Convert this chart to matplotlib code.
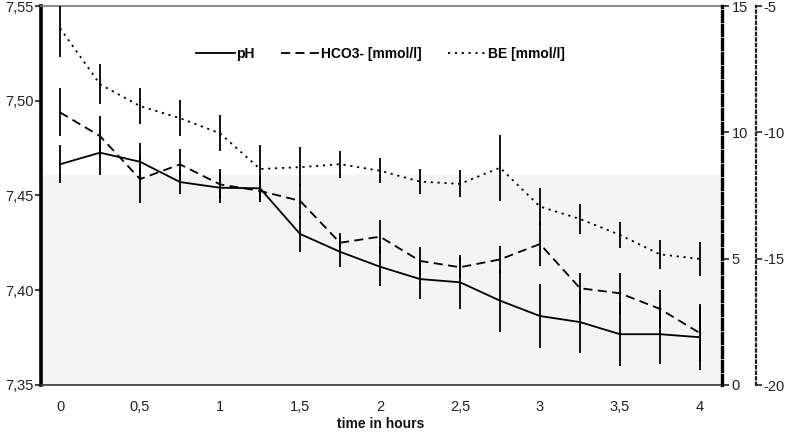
import matplotlib
matplotlib.use("Agg")
import matplotlib.pyplot as plt
from matplotlib.lines import Line2D

plt.rcParams['font.family'] = ['Liberation Sans', 'DejaVu Sans']

time_h = [0, 0.25, 0.5, 0.75, 1.0, 1.25, 1.5, 1.75, 2.0, 2.25, 2.5, 2.75, 3.0, 3.25, 3.5, 3.75, 4.0]

ph = [7.4665, 7.4726, 7.4678, 7.4571, 7.4541, 7.4538, 7.4297, 7.4203, 7.4124,
      7.4059, 7.4042, 7.3945, 7.3864, 7.3832, 7.3768, 7.3768, 7.3752]
ph_err = [0.0100, 0.0116, 0.0100, 0.0065, 0.0079, 0.0063, 0.0095, 0.0079, 0.0102,
          0.0106, 0.0142, 0.0164, 0.0167, 0.0165, 0.0166, 0.0158, 0.0173]

hco3 = [10.79, 9.85, 8.15, 8.73, 7.94, 7.68, 7.29, 5.63, 5.87, 4.91, 4.66, 4.97,
        5.58, 3.83, 3.63, 3.01, 2.05]
hco3_err = [0.95, 0.79, 0.95, 0.63, 0.59, 0.44, 0.67, 0.40, 0.67, 0.55, 0.40, 0.55,
            0.89, 0.62, 0.82, 0.75, 1.09]

be = [-5.88, -8.10, -8.96, -9.44, -10.04, -11.45, -11.38, -11.26, -11.52, -11.95,
      -12.04, -11.40, -12.94, -13.43, -14.06, -14.83, -15.01]
be_err = [1.12, 0.79, 0.72, 0.71, 0.71, 0.95, 0.79, 0.53, 0.49, 0.51, 0.53, 1.31,
          0.72, 0.58, 0.51, 0.58, 0.67]

x_ticks = [0, 0.5, 1, 1.5, 2, 2.5, 3, 3.5, 4]
x_ticklabels = ["0", "0,5", "1", "1,5", "2", "2,5", "3", "3,5", "4"]
ph_ticks = [7.35, 7.40, 7.45, 7.50, 7.55]
ph_ticklabels = ["7,35", "7,40", "7,45", "7,50", "7,55"]
hco3_ticks = [0, 5, 10, 15]
be_ticks = [-20, -15, -10, -5]
series_labels = ['pH', 'HCO3- [mmol/l]', 'BE [mmol/l]']
x_title = 'time in hours'
normal_ph_upper = 7.461

W, H = 792, 433
fig = plt.figure(figsize=(W / 100, H / 100), dpi=100)
ax = fig.add_axes([41 / W, (H - 385) / H, (722 - 41) / W, (385 - 6) / H])
ax.set_xlim(-0.119, 4.1375)
ax.set_ylim(7.35, 7.55)

ax.axhspan(7.35, normal_ph_upper, color='#f4f4f4', zorder=0, lw=0)

lw = 1.3
ls_ph = '-'
ls_hco3 = (0, (5, 3))
ls_be = (0, (1.2, 2.6))

ax.errorbar(time_h, ph, yerr=ph_err, color='black', lw=lw, elinewidth=lw,
            capsize=0, linestyle=ls_ph, zorder=3)

ax2 = ax.twinx()
ax2.set_ylim(0, 15)
ax2.errorbar(time_h, hco3, yerr=hco3_err, color='black', lw=lw, elinewidth=lw,
             capsize=0, linestyle=ls_hco3, zorder=3)

ax3 = ax.twinx()
ax3.set_ylim(-20, -5)
ax3.errorbar(time_h, be, yerr=be_err, color='black', lw=lw, elinewidth=lw,
             capsize=0, linestyle=ls_be, zorder=3)

for a in (ax, ax2, ax3):
    a.patch.set_visible(False)
ax.spines['left'].set_linewidth(2.6)
ax.spines['left'].set_color('black')
ax.spines['top'].set_color('#777777')
ax.spines['top'].set_linewidth(1.2)
ax.spines['bottom'].set_color('#333333')
ax.spines['bottom'].set_linewidth(1.2)
ax.spines['right'].set_visible(False)

for a in (ax2, ax3):
    a.spines['left'].set_visible(False)
    a.spines['top'].set_visible(False)
    a.spines['bottom'].set_visible(False)

ax2.spines['right'].set_linestyle((0, (3, 1.2)))
ax2.spines['right'].set_linewidth(2.4)
ax2.spines['right'].set_color('black')

ax3.spines['right'].set_position(('axes', 1.05))
ax3.spines['right'].set_linestyle((0, (1, 1.5)))
ax3.spines['right'].set_linewidth(1.6)
ax3.spines['right'].set_color('#222222')

fs = 10.5
ax.set_xticks(x_ticks)
ax.set_xticklabels(x_ticklabels, fontsize=fs)
ax.tick_params(axis='x', length=0, pad=11, colors='#222222')
ax.set_yticks(ph_ticks)
ax.set_yticklabels(ph_ticklabels, fontsize=fs)
ax.tick_params(axis='y', length=4, width=1.2, pad=1.5, colors='#222222')

ax2.set_yticks(hco3_ticks)
ax2.set_yticklabels([str(v) for v in hco3_ticks], fontsize=fs)
ax2.tick_params(axis='y', length=5, width=1.2, pad=2, colors='#222222')

ax3.set_yticks(be_ticks)
ax3.set_yticklabels([str(v) for v in be_ticks], fontsize=fs)
ax3.tick_params(axis='y', length=4, width=1.2, pad=1.5, colors='#222222')

fig.text(381 / W, 2 / H, x_title, fontsize=fs - 0.5, fontweight='bold',
         ha='center', va='bottom', color='#111111')

handles = [Line2D([], [], color='black', lw=lw, linestyle=ls_ph),
           Line2D([], [], color='black', lw=lw, linestyle=ls_hco3),
           Line2D([], [], color='black', lw=lw, linestyle=ls_be)]
leg = ax.legend(handles, series_labels, ncol=3, frameon=False,
                loc='center', bbox_to_anchor=(0.4985, 0.874),
                prop={'weight': 'bold', 'size': fs - 0.5}, handlelength=2.8,
                handletextpad=0.1, columnspacing=1.9)
leg.set_zorder(5)

fig.savefig('out.png', dpi=100)
